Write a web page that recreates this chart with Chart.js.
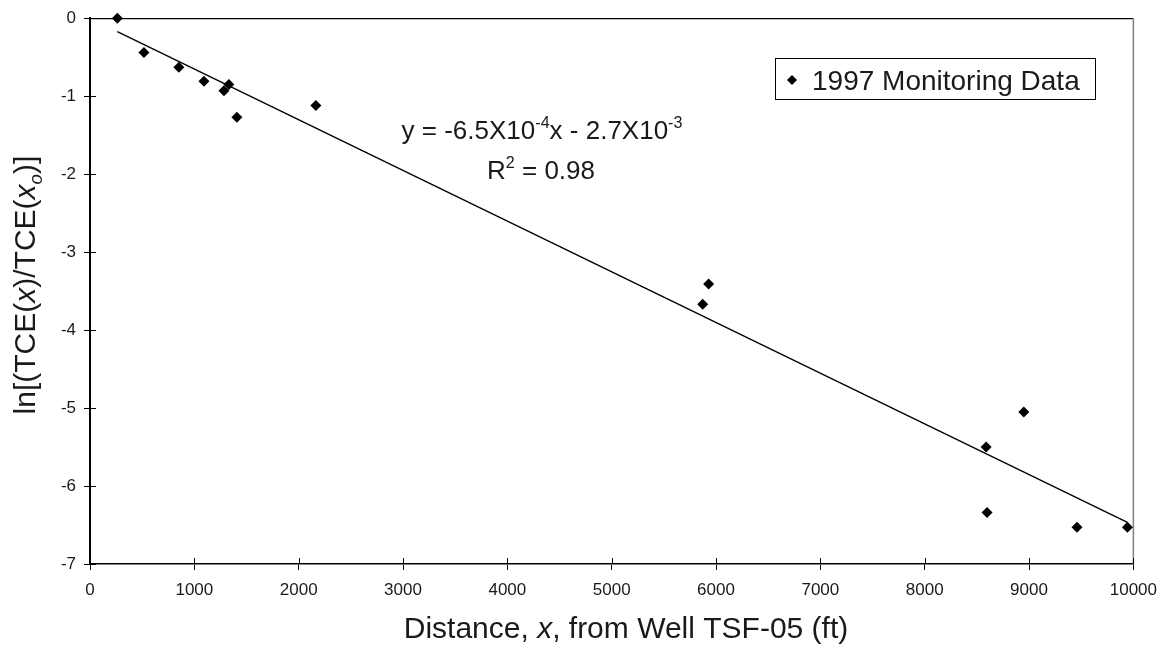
<!DOCTYPE html>
<html>
<head>
<meta charset="utf-8">
<script src="https://cdn.jsdelivr.net/npm/chart.js@4/dist/chart.umd.min.js"></script>
<style>
  body { margin: 0; background: #fff; }
  #wrap { width: 1167px; height: 651px; }
</style>
</head>
<body>
<div id="wrap"><canvas id="decayChart" width="1167" height="651"></canvas></div>
<script>
// 1997 monitoring data: distance from well TSF-05 (ft) vs ln of concentration ratio
const distanceFt = [262, 517, 852, 1092, 1284, 1331, 1408, 2165, 5872, 5929, 8589, 8598, 8950, 9460, 9943];
const lnRatio = [0, -0.44, -0.63, -0.81, -0.93, -0.85, -1.27, -1.12, -3.67, -3.41, -5.50, -6.34, -5.05, -6.53, -6.53];

// linear fit as printed on the chart
const slope = -6.5e-4;
const intercept = -2.7e-3;
const rSquared = 0.98;

const xTicks = [0, 1000, 2000, 3000, 4000, 5000, 6000, 7000, 8000, 9000, 10000];
const yTicks = [-7, -6, -5, -4, -3, -2, -1, 0];

const FONT = '"Liberation Sans", Arial, sans-serif';
const INK = '#1a1a1a';

const points = distanceFt.map((x, i) => ({ x: x, y: lnRatio[i] }));
const xMin = Math.min(...distanceFt);
const xMax = Math.max(...distanceFt);
const fitLine = [xMin, xMax].map(x => ({ x: x, y: slope * x + intercept }));

// draws a row of text runs (some italic / sub / superscript) starting at x
function drawRuns(ctx, runs, x, y, size) {
    let cx = x;
    runs.forEach(r => {
        const s = r.small ? size * 0.62 : size;
        ctx.font = (r.italic ? 'italic ' : '') + s + 'px ' + FONT;
        let dy = 0;
        if (r.sup) dy = -size * 0.42;
        if (r.sub) dy = size * 0.22;
        ctx.fillText(r.t, cx, y + dy);
        cx += ctx.measureText(r.t).width;
    });
}

function runsWidth(ctx, runs, size) {
    let w = 0;
    runs.forEach(r => {
        const s = r.small ? size * 0.62 : size;
        ctx.font = (r.italic ? 'italic ' : '') + s + 'px ' + FONT;
        w += ctx.measureText(r.t).width;
    });
    return w;
}

const decor = {
    id: 'decor',
    beforeDatasetsDraw(chart) {
        const ctx = chart.ctx;
        const a = chart.chartArea;
        const xs = chart.scales.x;
        const ys = chart.scales.y;
        ctx.save();

        // frame: top black, right grey
        ctx.lineWidth = 1.2;
        ctx.strokeStyle = '#000';
        ctx.beginPath();
        ctx.moveTo(a.left, a.top + 0.5);
        ctx.lineTo(a.right, a.top + 0.5);
        ctx.stroke();
        ctx.strokeStyle = '#808080';
        ctx.lineWidth = 1.5;
        ctx.beginPath();
        ctx.moveTo(a.right, a.top);
        ctx.lineTo(a.right, a.bottom);
        ctx.stroke();

        // tick marks poke a little inside the plot too
        ctx.strokeStyle = '#000';
        ctx.lineWidth = 1;
        xs.ticks.forEach(t => {
            const px = Math.round(xs.getPixelForValue(t.value)) + 0.5;
            ctx.beginPath();
            ctx.moveTo(px, a.bottom);
            ctx.lineTo(px, a.bottom - 6);
            ctx.stroke();
        });
        ys.ticks.forEach(t => {
            const py = Math.round(ys.getPixelForValue(t.value)) + 0.5;
            ctx.beginPath();
            ctx.moveTo(a.left, py);
            ctx.lineTo(a.left + 6, py);
            ctx.stroke();
        });
        ctx.restore();
    },
    afterDraw(chart) {
        const ctx = chart.ctx;
        const a = chart.chartArea;
        ctx.save();
        ctx.fillStyle = INK;
        ctx.textBaseline = 'alphabetic';
        ctx.textAlign = 'left';

        // x axis title
        const xTitle = [{ t: 'Distance, ' }, { t: 'x', italic: true }, { t: ', from Well TSF-05 (ft)' }];
        const xw = runsWidth(ctx, xTitle, 30);
        drawRuns(ctx, xTitle, 626 - xw / 2, 638, 30);

        // y axis title, rotated
        const yTitle = [
            { t: 'ln[(TCE(' }, { t: 'x', italic: true }, { t: ')/TCE(' },
            { t: 'x', italic: true }, { t: 'o', italic: true, small: true, sub: true }, { t: ')]' }
        ];
        const yw = runsWidth(ctx, yTitle, 30);
        ctx.save();
        ctx.translate(35, (a.top + a.bottom) / 2 - 6);
        ctx.rotate(-Math.PI / 2);
        drawRuns(ctx, yTitle, -yw / 2, 0, 30);
        ctx.restore();

        // fit equation
        const eq = [
            { t: 'y = ' + (slope * 1e4).toFixed(1) + 'X10' }, { t: '-4', small: true, sup: true },
            { t: 'x - ' + Math.abs(intercept * 1e3).toFixed(1) + 'X10' }, { t: '-3', small: true, sup: true }
        ];
        const ew = runsWidth(ctx, eq, 26);
        drawRuns(ctx, eq, 542 - ew / 2, 139, 26);
        const r2 = [{ t: 'R' }, { t: '2', small: true, sup: true }, { t: ' = ' + rSquared.toFixed(2) }];
        const rw = runsWidth(ctx, r2, 26);
        drawRuns(ctx, r2, 541 - rw / 2, 179, 26);

        // legend box
        ctx.fillStyle = '#fff';
        ctx.fillRect(775, 58, 320, 41);
        ctx.strokeStyle = '#000';
        ctx.lineWidth = 1;
        ctx.strokeRect(775.5, 58.5, 320, 41);
        ctx.fillStyle = '#000';
        ctx.beginPath();
        ctx.moveTo(792, 75);
        ctx.lineTo(797, 80);
        ctx.lineTo(792, 85);
        ctx.lineTo(787, 80);
        ctx.closePath();
        ctx.fill();
        ctx.fillStyle = INK;
        ctx.font = '28px ' + FONT;
        ctx.fillText('1997 Monitoring Data', 812, 90);

        ctx.restore();
    }
};

new Chart(document.getElementById('decayChart'), {
    type: 'scatter',
    data: {
        datasets: [
            {
                label: '1997 Monitoring Data',
                data: points,
                pointStyle: 'rectRot',
                pointRadius: 5.5,
                backgroundColor: '#000',
                borderColor: '#000',
                borderWidth: 0,
                clip: false
            },
            {
                label: 'fit',
                type: 'line',
                data: fitLine,
                showLine: true,
                borderColor: '#000',
                borderWidth: 1.4,
                pointRadius: 0,
                fill: false
            }
        ]
    },
    options: {
        responsive: false,
        animation: false,
        layout: { padding: { top: 16, right: 33, left: 0, bottom: 0 } },
        plugins: {
            legend: { display: false },
            tooltip: { enabled: false }
        },
        scales: {
            x: {
                type: 'linear',
                min: 0,
                max: 10000,
                afterBuildTicks: s => { s.ticks = xTicks.map(v => ({ value: v })); },
                afterFit: s => { s.height = 87; },
                ticks: {
                    color: INK, font: { family: FONT, size: 17 }, padding: 10, maxRotation: 0,
                    callback: v => String(v)
                },
                grid: { drawOnChartArea: false, color: '#000', tickLength: 6, tickWidth: 1 },
                border: { color: '#000', width: 1.5 }
            },
            y: {
                type: 'linear',
                min: -7,
                max: 0,
                afterBuildTicks: s => { s.ticks = yTicks.map(v => ({ value: v })); },
                afterFit: s => { s.width = 90; },
                ticks: {
                    color: INK, font: { family: FONT, size: 17 }, padding: 8,
                    callback: v => String(v)
                },
                grid: { drawOnChartArea: false, color: '#000', tickLength: 6, tickWidth: 1 },
                border: { color: '#000', width: 2 }
            }
        }
    },
    plugins: [decor]
});
</script>
</body>
</html>
